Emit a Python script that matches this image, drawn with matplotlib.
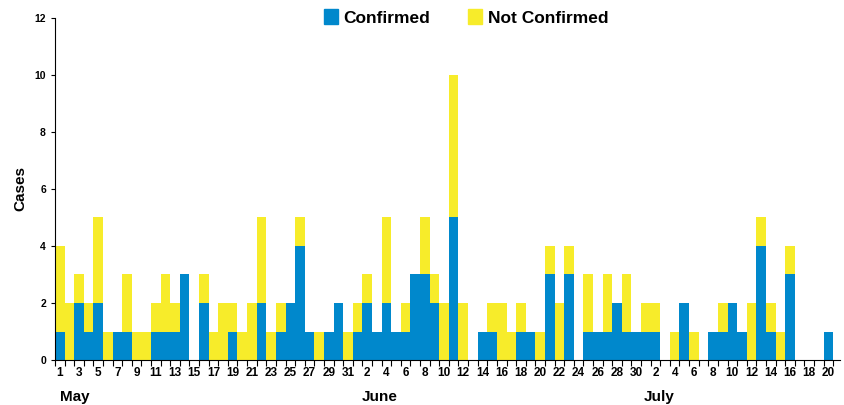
import numpy as np
import matplotlib.pyplot as plt
from matplotlib.patches import Patch

plt.rcParams["font.family"] = ["Liberation Sans", "DejaVu Sans"]

# day of month for each bar: May 1-31, June 1-30, July 1-20
days = list(range(1, 32)) + list(range(1, 31)) + list(range(1, 21))
months = ["May", "June", "July"]

confirmed = [
    # May
    1, 0, 2, 1, 2, 0, 1, 1, 0, 0, 1, 1, 1, 3, 0, 2, 0, 0, 1, 0, 0, 2, 0, 1, 2, 4, 1, 0, 1, 2, 0,
    # June
    1, 2, 1, 2, 1, 1, 3, 3, 2, 0, 5, 0, 0, 1, 1, 0, 0, 1, 1, 0, 3, 0, 3, 0, 1, 1, 1, 2, 1, 1,
    # July
    1, 1, 0, 0, 2, 0, 0, 1, 1, 2, 1, 0, 4, 1, 0, 3, 0, 0, 0, 1,
]
not_confirmed = [
    # May
    3, 2, 1, 1, 3, 1, 0, 2, 1, 1, 1, 2, 1, 0, 0, 1, 1, 2, 1, 1, 2, 3, 1, 1, 0, 1, 0, 1, 0, 0, 1,
    # June
    1, 1, 0, 3, 0, 1, 0, 2, 1, 2, 5, 2, 0, 0, 1, 2, 1, 1, 0, 1, 1, 2, 1, 0, 2, 0, 2, 0, 2, 0,
    # July
    1, 1, 0, 1, 0, 1, 0, 0, 1, 0, 0, 2, 1, 1, 1, 1, 0, 0, 0, 0,
]

blue = "#0088CC"
yellow = "#F7EC2A"

x = np.arange(1, len(days) + 1)

fig = plt.figure(figsize=(8.45, 4.05), dpi=100)
ax = fig.add_axes([0.065, 0.111, 0.929, 0.845])

ax.bar(x, confirmed, width=1.0, color=blue, edgecolor="none")
ax.bar(x, not_confirmed, width=1.0, bottom=confirmed, color=yellow, edgecolor="none")

ax.set_xlim(0.5, 82.2)
ax.set_ylim(0, 12)
ax.set_yticks(range(0, 13, 2))
ax.tick_params(axis="y", labelsize=7.5, length=3, width=0.8)
for t in ax.get_yticklabels():
    t.set_fontweight("bold")

# labels on every other day, ticks at the day boundaries
lab_pos = x[::2]
ax.set_xticks(lab_pos)
ax.set_xticklabels([str(days[i - 1]) for i in lab_pos], fontsize=8.5, fontweight="bold")
ax.set_xticks(np.arange(0.5, len(days) + 1.5, 1), minor=True)
ax.tick_params(axis="x", which="major", length=0, pad=5)
ax.tick_params(axis="x", which="minor", length=4, width=0.8)

for s in ["top", "right"]:
    ax.spines[s].set_visible(False)

ax.set_ylabel("Cases", fontsize=11, fontweight="bold", labelpad=5)

# month labels under the day labels
for name, pos in zip(months, [2.6, 34.3, 63.4]):
    ax.text(pos, -1.3, name, ha="center", va="center", fontsize=11, fontweight="bold")

handles = [Patch(color=blue, label="Confirmed"), Patch(color=yellow, label="Not Confirmed")]
ax.legend(handles=handles, loc="upper center", bbox_to_anchor=(0.524, 1.07), ncol=2,
          frameon=False, prop={"weight": "bold", "size": 12.5}, handlelength=0.8,
          handleheight=0.9, handletextpad=0.3, columnspacing=2.2)

plt.savefig("out.png", dpi=100)
